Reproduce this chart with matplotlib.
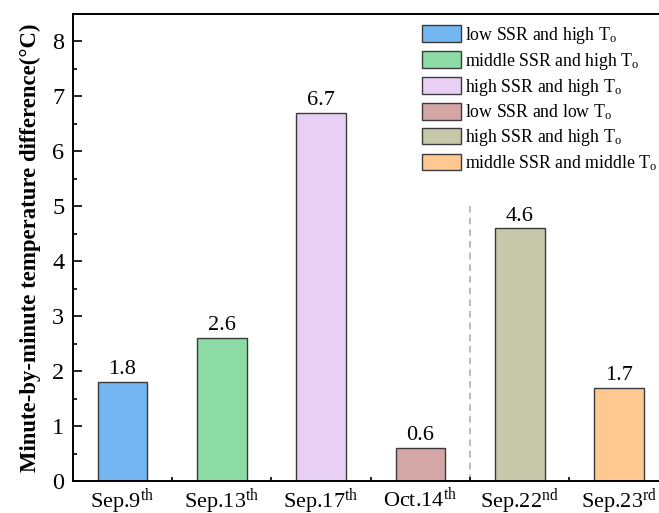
import matplotlib
matplotlib.use("Agg")
import matplotlib.pyplot as plt
from matplotlib.ticker import FixedLocator

plt.rcParams["font.family"] = "Liberation Serif"
plt.rcParams["mathtext.fontset"] = "custom"
plt.rcParams["mathtext.rm"] = "Liberation Serif"
plt.rcParams["mathtext.it"] = "Liberation Serif:italic"
plt.rcParams["mathtext.bf"] = "Liberation Serif:bold"

# ---------------------------------------------------------------------------
# Data
# ---------------------------------------------------------------------------
DAYS = [r"Sep.9$^{\mathrm{th}}$", r"Sep.13$^{\mathrm{th}}$", r"Sep.17$^{\mathrm{th}}$",
        r"Oct.14$^{\mathrm{th}}$", r"Sep.22$^{\mathrm{nd}}$", r"Sep.23$^{\mathrm{rd}}$"]
TEMP_DIFF = [1.8, 2.6, 6.7, 0.6, 4.6, 1.7]
CONDITIONS = [
    r"low SSR and high T$_{\mathrm{o}}$",
    r"middle SSR and high T$_{\mathrm{o}}$",
    r"high SSR and high T$_{\mathrm{o}}$",
    r"low SSR and low T$_{\mathrm{o}}$",
    r"high SSR and high T$_{\mathrm{o}}$",
    r"middle SSR and middle T$_{\mathrm{o}}$",
]
COLORS = ["#74B6F2", "#8DDCA6", "#E8D0F4", "#D4A7A6", "#C6C8A9", "#FFC891"]

DIVIDER_X = 4.5      # separates the two groups of days
DIVIDER_TOP = 5.1


def main():
    fig = plt.figure(figsize=(6.59, 5.13), dpi=100)
    ax = fig.add_axes([0.1103, 0.0624, 0.9044, 0.9103])

    x = list(range(1, len(TEMP_DIFF) + 1))
    bars = ax.bar(x, TEMP_DIFF, width=0.5, color=COLORS,
                  edgecolor="#3a3a3a", linewidth=1.0, zorder=2)
    for b, lab in zip(bars, CONDITIONS):
        b.set_label(lab)

    for xi, v in zip(x, TEMP_DIFF):
        ax.text(xi, v + 0.05, f"{v:.1f}", ha="center", va="bottom", fontsize=16)

    ax.plot([DIVIDER_X, DIVIDER_X], [0, DIVIDER_TOP], color="#b0b0b0",
            linestyle=(0, (4, 3)), linewidth=1.2, zorder=1)

    ax.set_xlim(0.5, 6.5)
    ax.set_ylim(0, 8.5)
    ax.set_xticks(x)
    ax.set_xticklabels(DAYS, fontsize=16)
    ax.xaxis.set_minor_locator(FixedLocator([1.5, 2.5, 3.5, 4.5, 5.5]))
    ax.set_yticks(range(0, 9))
    ax.yaxis.set_minor_locator(FixedLocator([i + 0.5 for i in range(8)]))
    ax.tick_params(axis="both", which="major", direction="in", length=6.5,
                   width=1.2)
    ax.tick_params(axis="both", which="minor", direction="in", length=3, width=1.2)
    ax.tick_params(axis="x", which="major", pad=4, labelsize=16)
    ax.tick_params(axis="y", which="major", pad=6, labelsize=17.5)
    for sp in ax.spines.values():
        sp.set_linewidth(1.4)

    ax.set_ylabel("Minute-by-minute temperature difference(\u00b0C)",
                  fontsize=16.4, fontweight="bold")
    ax.yaxis.set_label_coords(-0.053, 0.5)

    ax.legend(loc="upper left", bbox_to_anchor=(0.640, 0.952),
              bbox_transform=fig.transFigure, frameon=False, fontsize=12.8,
              handlelength=2.2, handleheight=1.04, handletextpad=0.25,
              labelspacing=0.28, borderaxespad=0, borderpad=0)

    fig.savefig("out.png", dpi=100)


if __name__ == "__main__":
    main()
